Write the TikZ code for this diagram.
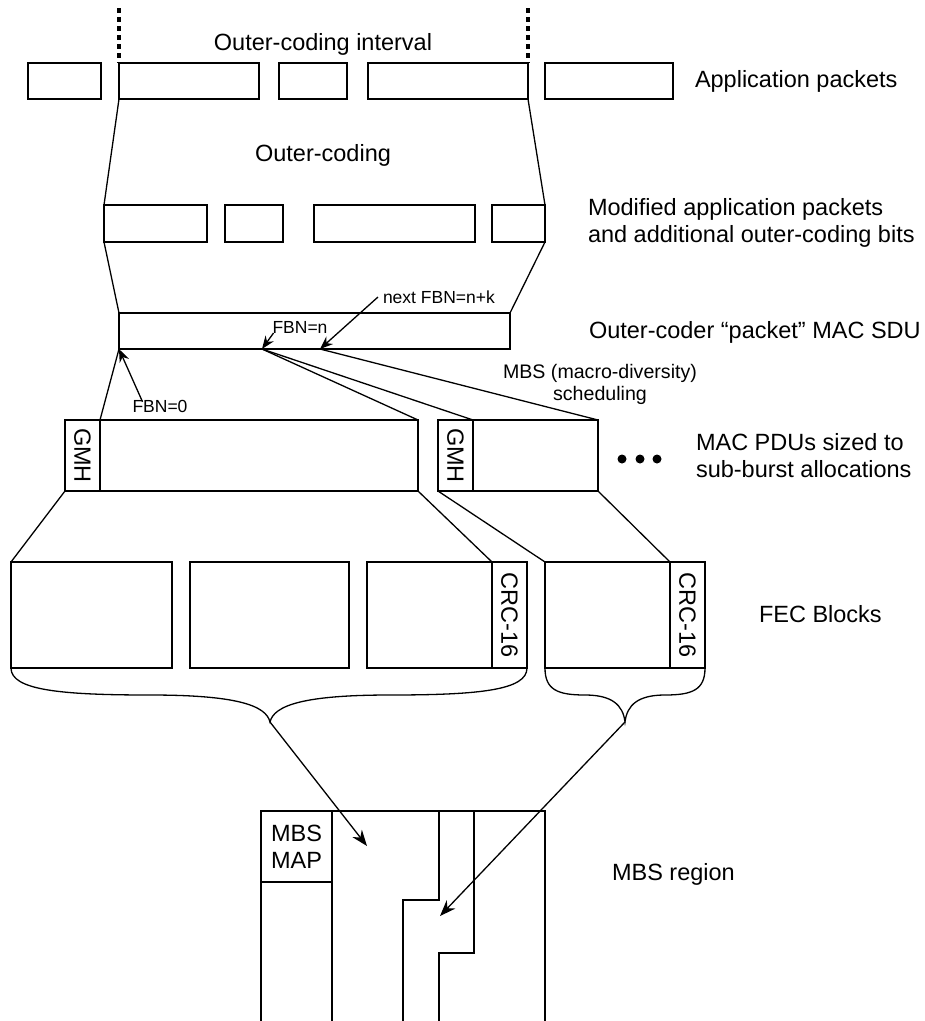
\documentclass[tikz,border=0pt]{standalone}
\usepackage{fontspec}
\setmainfont{Liberation Sans}
\usetikzlibrary{arrows.meta}

\begin{document}
\begin{tikzpicture}[
  x=1pt, y=-1pt,
  every node/.style={inner sep=0pt, outer sep=0pt},
  box/.style={draw, line width=1.3pt, anchor=north west},
  edge/.style={draw, line width=1.3pt},
  dots/.style={draw, line width=3.5pt, dash pattern=on 5pt off 4pt},
  big/.style={font=\fontsize{23.5}{27}\selectfont},
  mid/.style={font=\fontsize{19.6}{22}\selectfont},
  small/.style={font=\fontsize{17.5}{20}\selectfont},
  arrow/.style={draw, line width=1.3pt, -{Stealth[length=16pt, width=12pt]}},
  sarrow/.style={draw, line width=1.3pt, -{Stealth[length=13pt, width=10pt]}}]

  \useasboundingbox (0,0) rectangle (925,1021);

  % --- application packets and the outer-coding interval ---
  \node[box, minimum width=73, minimum height=36] (a0) at (28,63) {};
  \node[box, minimum width=140, minimum height=36] (a1) at (119,63) {};
  \node[box, minimum width=68, minimum height=36] (a2) at (279,63) {};
  \node[box, minimum width=160, minimum height=36] (a3) at (368,63) {};
  \node[box, minimum width=128, minimum height=36] (a4) at (545,63) {};
  \coordinate (ivl) at (119,8);
  \coordinate (ivr) at (528,8);
  \draw[dots] (ivl) -- (a1.north west);
  \draw[dots] (ivr) -- (a3.north east);
  \node[big] (ivtxt) at (323,44) {Outer-coding interval};
  \node[big, anchor=west] (apptxt) at (695,81) {Application packets};

  % --- modified packets after outer coding ---
  \node[big] (octxt) at (323,155) {Outer-coding};
  \node[box, minimum width=103, minimum height=37] (m0) at (104,205) {};
  \node[box, minimum width=58, minimum height=37] (m1) at (225,205) {};
  \node[box, minimum width=161, minimum height=37] (m2) at (314,205) {};
  \node[box, minimum width=53, minimum height=37] (m3) at (492,205) {};
  \draw[edge] (a1.south west) -- (m0.north west);
  \draw[edge] (a3.south east) -- (m3.north east);
  \node[big, anchor=west, align=left] (modtxt) at (588,223)
    {Modified application packets\\and additional outer-coding bits};

  % --- the MAC SDU with its FBN marks ---
  \node[box, minimum width=391, minimum height=36] (sdu) at (119,313) {};
  \draw[edge] (m0.south west) -- (sdu.north west);
  \draw[edge] (m3.south east) -- (sdu.north east);
  \coordinate (fbnn) at (262,349);
  \coordinate (fbnk) at (320,349);
  \node[big, anchor=west] (sdutxt) at (589,332) {Outer-coder “packet” MAC SDU};
  \node[small] (fbn0txt) at (160,406) {FBN=0};
  \node[small] (fbnntxt) at (300,327) {FBN=n};
  \node[small, anchor=west] (fbnktxt) at (383,297) {next FBN=n+k};
  \draw[sarrow] ([xshift=10pt, yshift=-2pt]fbn0txt.north west) -- (sdu.south west);
  \draw[sarrow] ([xshift=1pt]fbnntxt.south west) -- (fbnn);
  \draw[sarrow] ([xshift=-5pt]fbnktxt.west) -- (fbnk);
  \node[mid, align=center] (mbstxt) at (600,384) {MBS (macro-diversity)\\scheduling};

  % --- MAC PDUs, each with its GMH ---
  \node[box, minimum width=35, minimum height=71] (g1) at (65,420) {};
  \node[box, minimum width=318, minimum height=71] (p1) at (100,420) {};
  \node[box, minimum width=35, minimum height=71] (g2) at (438,420) {};
  \node[box, minimum width=125, minimum height=71] (p2) at (473,420) {};
  \node[big, rotate=-90] (g1txt) at (g1.center) {GMH};
  \node[big, rotate=-90] (g2txt) at (g2.center) {GMH};
  \draw[edge] (sdu.south west) -- (p1.north west);
  \draw[edge] (fbnn) -- (p1.north east);
  \draw[edge] (fbnn) -- (p2.north west);
  \draw[edge] (fbnk) -- (p2.north east);
  \foreach \dx in {622,640,657}
    \fill (\dx,459) circle (4.5);
  \node[big, anchor=west, align=left] (pdutxt) at (696,456)
    {MAC PDUs sized to\\sub-burst allocations};

  % --- FEC blocks with CRC-16 ---
  \node[box, minimum width=161, minimum height=106] (f1) at (11,562) {};
  \node[box, minimum width=159, minimum height=106] (f2) at (190,562) {};
  \node[box, minimum width=125, minimum height=106] (f3) at (367,562) {};
  \node[box, minimum width=35, minimum height=106] (c1) at (492,562) {};
  \node[box, minimum width=125, minimum height=106] (f4) at (545,562) {};
  \node[box, minimum width=35, minimum height=106] (c2) at (670,562) {};
  \node[big, rotate=-90] (c1txt) at (c1.center) {CRC-16};
  \node[big, rotate=-90] (c2txt) at (c2.center) {CRC-16};
  \draw[edge] (g1.south west) -- (f1.north west);
  \draw[edge] (p1.south east) -- (c1.north west);
  \draw[edge] (g2.south west) -- (f4.north west);
  \draw[edge] (p2.south east) -- (c2.north west);
  \node[big, anchor=west] (fectxt) at (759,614) {FEC Blocks};

  % --- braces gathering the blocks ---
  \coordinate (tip1) at (270,722);
  \coordinate (tip2) at (625,722);
  \draw[edge] (f1.south west) .. controls (11,690) and (60,695) .. (150,695)
    .. controls (235,695) and (266,705) .. (tip1)
    .. controls (274,705) and (305,695) .. (390,695)
    .. controls (480,695) and (527,690) .. (c1.south east);
  \draw[edge] (f4.south west) .. controls (545,690) and (558,695) .. (585,695)
    .. controls (612,695) and (623,705) .. (tip2)
    .. controls (627,705) and (638,695) .. (665,695)
    .. controls (692,695) and (705,690) .. (c2.south east);

  % --- MBS region ---
  \node[box, big, minimum width=71, minimum height=71, align=left] (map) at (261,811)
    {MBS\\MAP};
  \coordinate (hit1) at (367,846);
  \coordinate (hit2) at (440,916);
  \draw[edge] (261,1021) -- (map.north west) -- (545,811) -- (545,1021);
  \draw[edge] (map.south east) -- (332,1021);
  \draw[edge] (439,811) -- (439,900) -- (403,900) -- (403,1021);
  \draw[edge] (474,811) -- (474,953) -- (439,953) -- (439,1021);
  \draw[arrow] (tip1) -- (hit1);
  \draw[arrow] (tip2) -- (hit2);
  \node[big, anchor=west] (mbsrtxt) at (612,874) {MBS region};

\end{tikzpicture}
\end{document}
